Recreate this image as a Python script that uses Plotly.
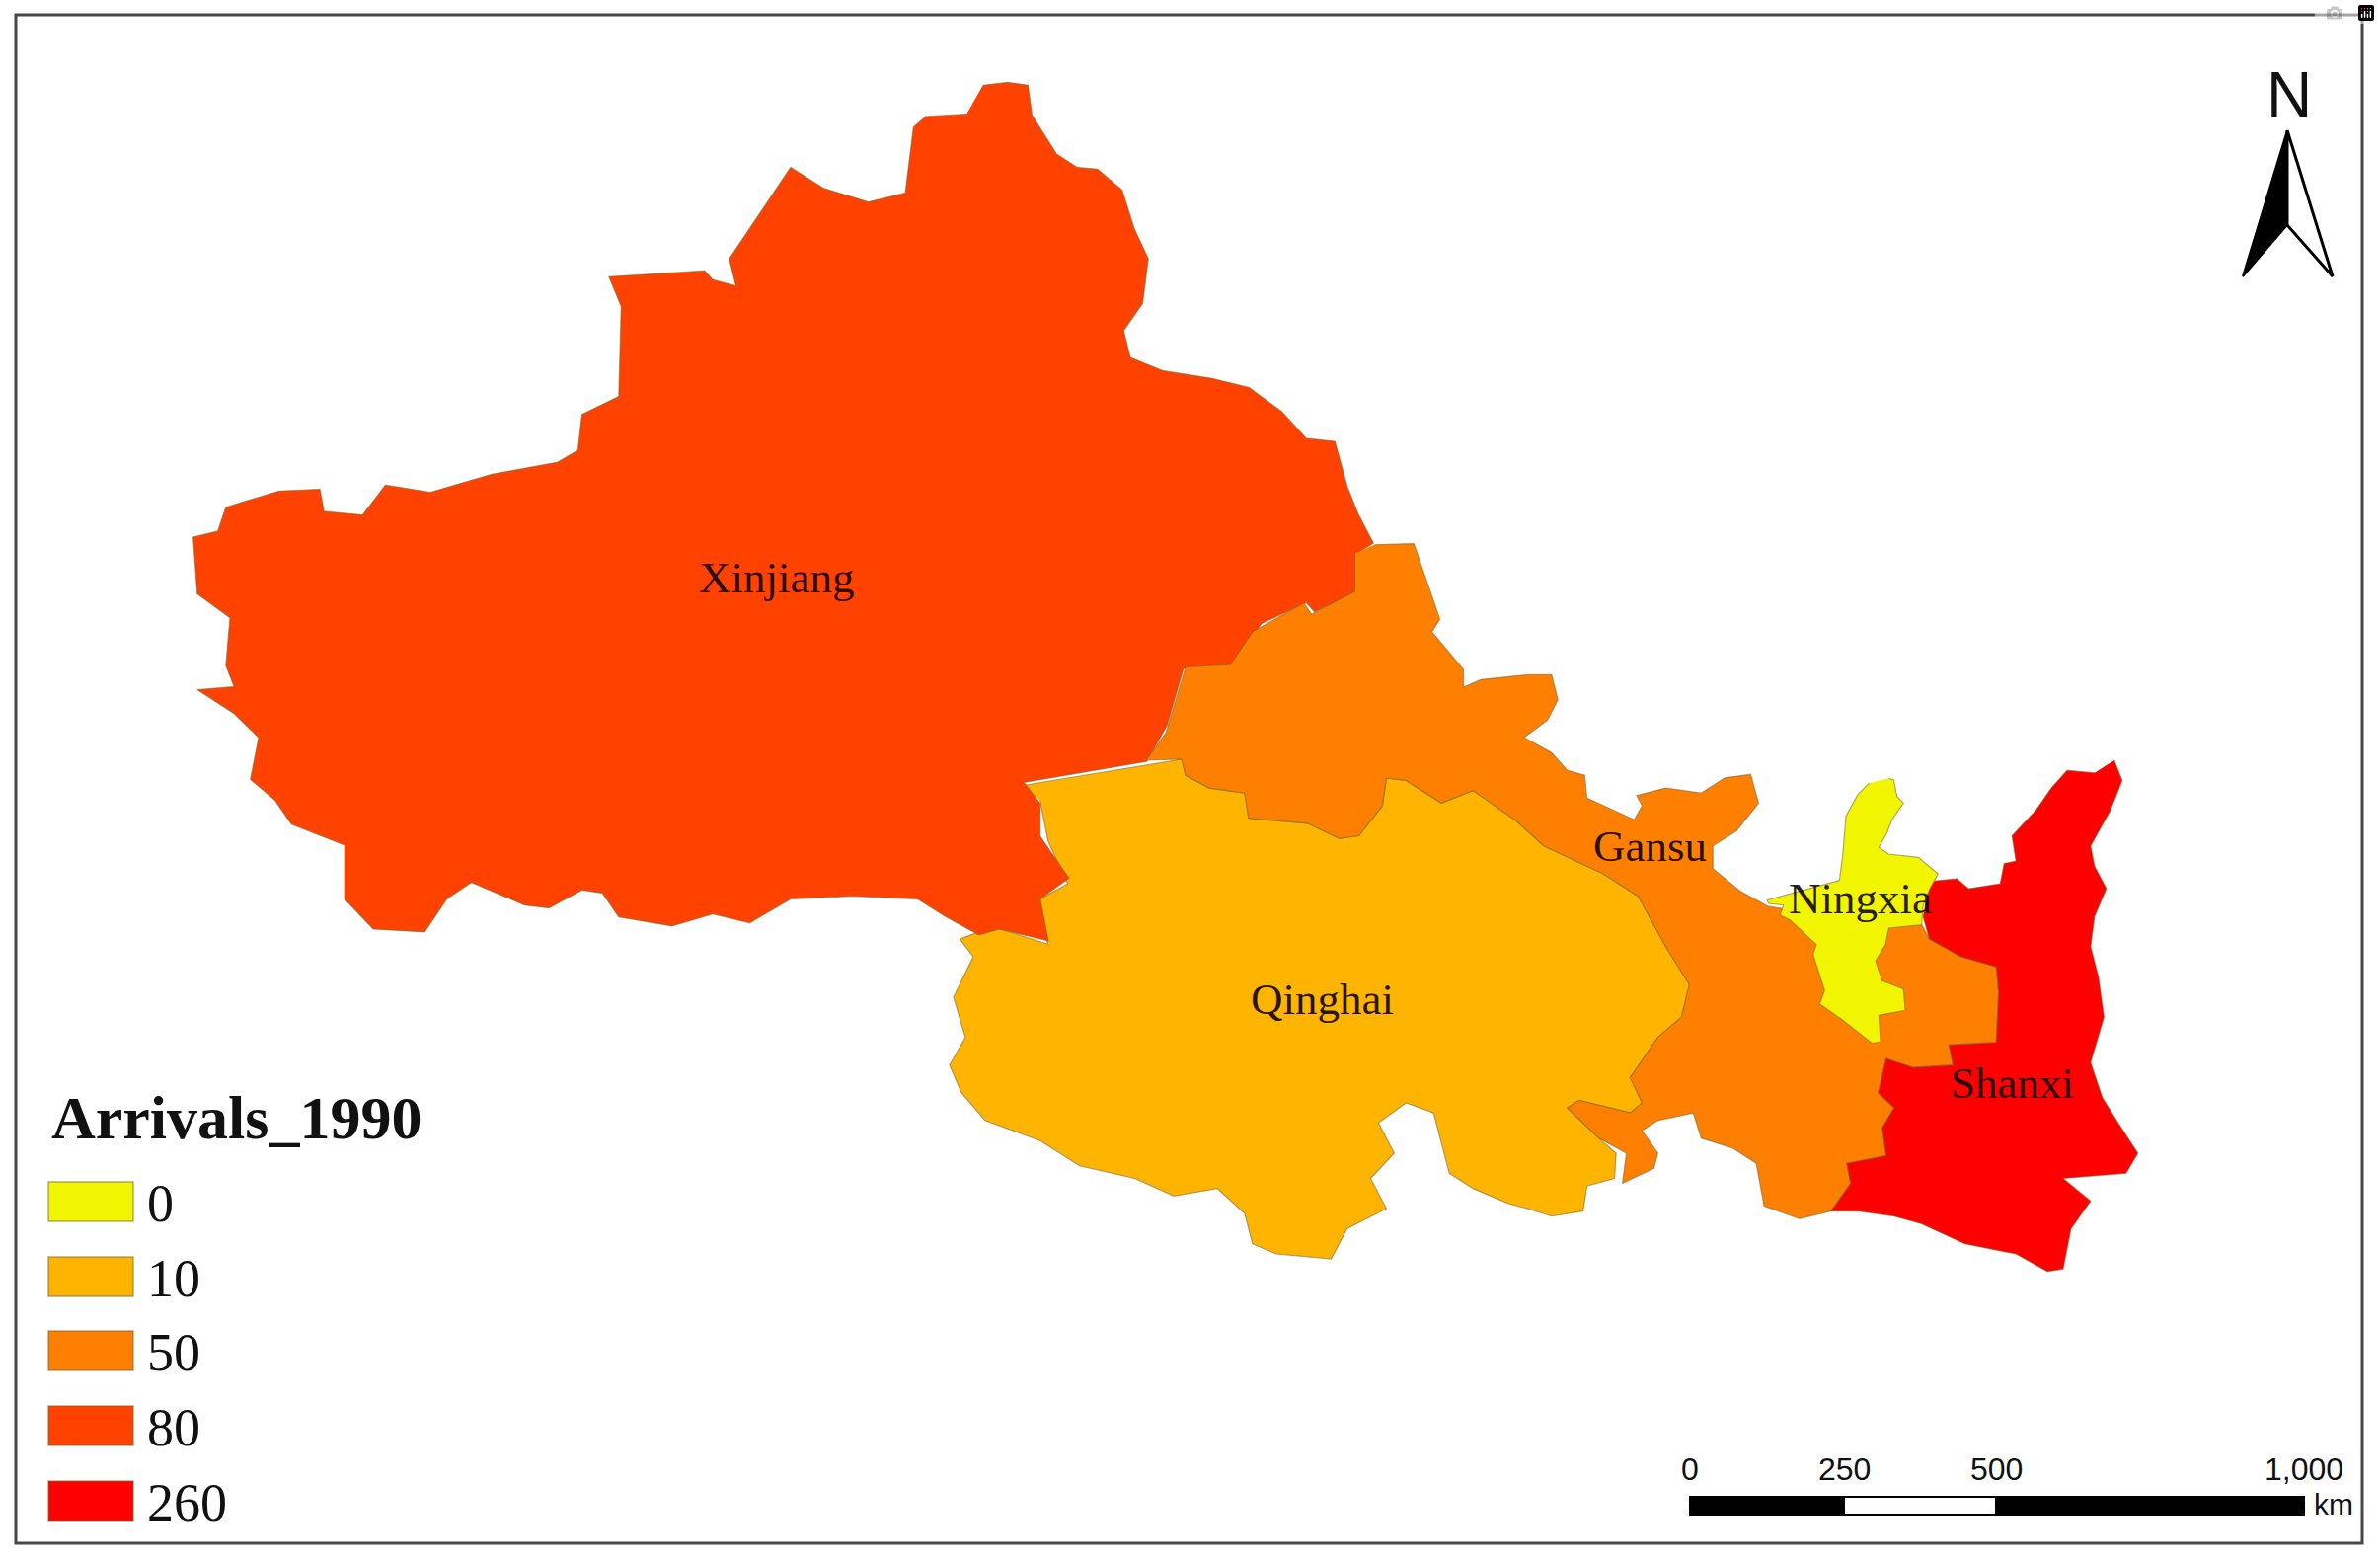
import plotly.graph_objects as go

# class values and colours of the legend
classes = [0, 10, 50, 80, 260]
class_colors = ["#F2F500", "#FFB400", "#FF7F00", "#FF4200", "#FF0000"]

# value of each province
provinces = ["Qinghai", "Xinjiang", "Gansu", "Shanxi", "Ningxia"]
arrivals = [10, 80, 50, 260, 0]

# province names on the map, centre of the text
label_x = [786, 1339, 1671, 1884, 2038]
label_y = [585, 1012, 857, 910, 1097]
label_names = ["Xinjiang", "Qinghai", "Gansu", "Ningxia", "Shanxi"]

xinjiang = [(1020,60),(1050,55),(1075,60),(1080,110),(1110,175),(1135,197),(1160,200),(1190,235),(1205,300),(1222,350),
    (1215,425),(1192,470),(1200,515),(1240,537),(1300,550),(1345,565),(1385,605),(1415,650),(1450,655),(1465,730),
    (1478,775),(1497,825),(1480,840),(1478,905),(1425,940),(1415,925),(1360,960),(1325,1030),(1265,1035),(1245,1130),
    (1220,1190),(1070,1225),(1090,1260),(1090,1315),(1125,1385),(1090,1420),(1100,1490),(1040,1470),(1015,1480),(975,1450),
    (940,1420),(860,1415),(785,1420),(735,1460),(690,1445),(640,1465),(575,1450),(555,1410),(530,1405),(490,1435),
    (460,1430),(395,1392),(365,1420),(338,1475),(275,1470),(240,1420),(240,1330),(175,1295),(155,1255),(125,1220),
    (135,1150),(105,1110),(60,1070),(105,1065),(95,1030),(100,950),(60,910),(55,815),(85,805),(95,765),
    (160,738),(210,735),(215,772),(262,778),(290,728),(345,740),(420,710),(500,690),(525,670),(530,610),
    (575,580),(578,430),(563,380),(680,370),(690,385),(718,395),(710,350),(785,197),(825,232),(880,255),
    (925,240),(935,130),(950,112),(1000,108)]

gansu = [(555,62),(605,60),(638,210),(628,235),(668,310),(668,345),(690,330),(750,320),(780,320),(788,370),
    (775,410),(745,445),(780,475),(800,510),(822,520),(825,565),(860,590),(885,608),(895,580),(888,560),
    (925,545),(970,555),(1000,525),(1033,518),(1043,575),(1015,630),(985,660),(985,705),(1020,750),(1055,780),
    (1215,820),(1250,815),(1260,845),(1300,880),(1345,900),(1348,950),(1345,1050),(1285,1055),(1290,1095),(1240,1100),
    (1205,1082),(1195,1150),(1215,1180),(1200,1220),(1205,1275),(1155,1290),(1160,1330),(1135,1385),(1095,1400),(1050,1375),
    (1040,1290),(1010,1260),(970,1240),(960,1190),(915,1205),(895,1225),(915,1270),(910,1300),(870,1330),(875,1270),
    (840,1240),(800,1180),(815,1165),(880,1190),(895,1170),(880,1120),(915,1040),(945,1000),(955,935),(925,860),
    (890,760),(845,715),(770,660),(735,610),(680,550),(640,575),(595,530),(570,525),(565,580),(535,640),
    (510,645),(470,615),(395,605),(390,555),(345,545),(315,520),(310,488),(265,490),(290,435),(315,305),
    (372,300),(400,235),(465,178),(475,200),(530,155),(530,80)]

qinghai = [(108,540),(310,488),(315,520),(345,545),(390,555),(395,605),(470,615),(510,645),(535,640),(565,580),
    (570,525),(595,530),(640,575),(680,550),(735,610),(770,660),(845,715),(890,760),(925,860),(955,935),
    (945,1000),(915,1040),(880,1120),(895,1170),(880,1190),(815,1165),(800,1180),(840,1240),(862,1270),(860,1320),
    (825,1335),(820,1385),(780,1395),(750,1380),(725,1370),(680,1340),(650,1310),(630,1190),(595,1170),(560,1210),
    (580,1270),(550,1320),(570,1380),(520,1420),(500,1480),(465,1475),(430,1470),(400,1450),(390,1390),(355,1340),
    (300,1355),(250,1320),(180,1295),(130,1245),(60,1205),(30,1150),(15,1095),(35,1040),(20,960),(45,880),
    (28,845),(70,820),(140,855),(125,770),(165,735),(140,650),(130,570)]

shanxi = [(1495,490),(1505,530),(1490,590),(1465,660),(1470,700),(1485,745),(1470,800),(1465,860),(1475,920),(1482,1000),
    (1465,1090),(1480,1160),(1500,1210),(1525,1270),(1510,1310),(1430,1320),(1465,1365),(1440,1420),(1430,1500),(1410,1505),
    (1370,1470),(1305,1450),(1250,1410),(1215,1395),(1170,1385),(1135,1385),(1160,1330),(1155,1290),(1205,1275),(1200,1220),
    (1215,1180),(1195,1150),(1205,1082),(1240,1100),(1290,1095),(1285,1055),(1345,1050),(1348,950),(1345,900),(1300,880),
    (1260,845),(1252,800),(1262,730),(1295,725),(1310,745),(1350,735),(1355,695),(1370,690),(1365,640),(1395,590),
    (1415,545),(1435,510),(1470,515)]

ningxia = [(640,145),(655,150),(665,200),(685,220),(650,270),(635,310),(610,355),(640,375),(730,385),(790,435),
    (765,480),(745,530),(740,590),(640,600),(630,650),(600,700),(620,760),(685,785),(690,850),(610,865),
    (615,945),(590,950),(500,880),(430,830),(445,790),(410,680),(420,650),(340,575),(310,560),(320,530),
    (275,525),(270,515),(490,455),(500,380),(510,260),(545,195),(580,160)]

# crop origin and scale of each outline
crops = {
    "Xinjiang": (xinjiang, 150, 50, 1.206, 1.65),
    "Qinghai": (qinghai, 950, 520, 1.2544, 1.96),
    "Gansu": (gansu, 950, 520, 1.2544, 1.96),
    "Shanxi": (shanxi, 950, 520, 1.2544, 1.96),
    "Ningxia": (ningxia, 1700, 740, 3, 3),
}

serif = "Liberation Serif"
sans = "Liberation Sans"

fig = go.Figure()

# provinces
for name, value in zip(provinces, arrivals):
    pts, x0, y0, sx, sy = crops[name]
    xs = [x0 + p[0] / sx for p in pts]
    ys = [y0 + p[1] / sy for p in pts]
    fig.add_trace(go.Scatter(x=xs, y=ys, mode="lines", fill="toself", name=name,
                             fillcolor=class_colors[classes.index(value)],
                             line=dict(color="rgba(120,100,50,0.55)", width=1.2),
                             hoverinfo="name", showlegend=False))

# north arrow
fig.add_trace(go.Scatter(x=[2317, 2272, 2317, 2317], y=[132, 280, 228, 132], mode="lines", fill="toself",
                         fillcolor="black", line=dict(color="black", width=2), showlegend=False, hoverinfo="skip"))
fig.add_trace(go.Scatter(x=[2317, 2363, 2317, 2317], y=[132, 280, 228, 132], mode="lines", fill="toself",
                         fillcolor="white", line=dict(color="black", width=3), showlegend=False, hoverinfo="skip"))

shapes = [dict(type="rect", x0=16, x1=2393, y0=15, y1=1563, line=dict(color="#484848", width=3), layer="below")]
annotations = []


def add_text(x, y, text, size, family=serif, color="#111111", anchor="center", bold=False):
    if bold:
        text = "<b>" + text + "</b>"
    annotations.append(dict(x=x, y=y, text=text, showarrow=False, xanchor=anchor, yanchor="middle",
                            font=dict(family=family, size=size, color=color)))


for name, x, y in zip(label_names, label_x, label_y):
    add_text(x, y, name, 45, color="rgba(10,0,0,0.88)")

# legend
add_text(50, 1132, "Arrivals_1990", 62, anchor="left", bold=True)
swatch_top = [1197, 1273, 1348, 1424, 1500]
for value, color, top in zip(classes, class_colors, swatch_top):
    shapes.append(dict(type="rect", x0=49, x1=135, y0=top, y1=top + 40, fillcolor=color,
                       line=dict(color="rgba(120,100,50,0.55)", width=1.5)))
    add_text(147, top + 22, str(value), 54, anchor="left")

# scale bar
scale_km = ["0", "250", "500", "1,000"]
scale_pos = [1712, 1868, 2022, 2334]
for i in range(3):
    shapes.append(dict(type="rect", x0=scale_pos[i], x1=scale_pos[i + 1], y0=1516, y1=1534,
                       fillcolor="white" if i == 1 else "black", line=dict(color="black", width=2)))
for km, x in zip(scale_km, scale_pos):
    add_text(x, 1488, km, 32, family=sans)
add_text(2342, 1523, "km", 30, family=sans, anchor="left")

# north letter
add_text(2319, 96, "N", 64, family=sans)

fig.update_layout(width=2411, height=1581, margin=dict(l=0, r=0, t=0, b=0),
                  paper_bgcolor="white", plot_bgcolor="white", shapes=shapes, annotations=annotations,
                  xaxis=dict(range=[0, 2411], visible=False, fixedrange=True),
                  yaxis=dict(range=[1581, 0], visible=False, fixedrange=True))

fig.write_html("out.html", post_script="document.body.style.margin='0';")
